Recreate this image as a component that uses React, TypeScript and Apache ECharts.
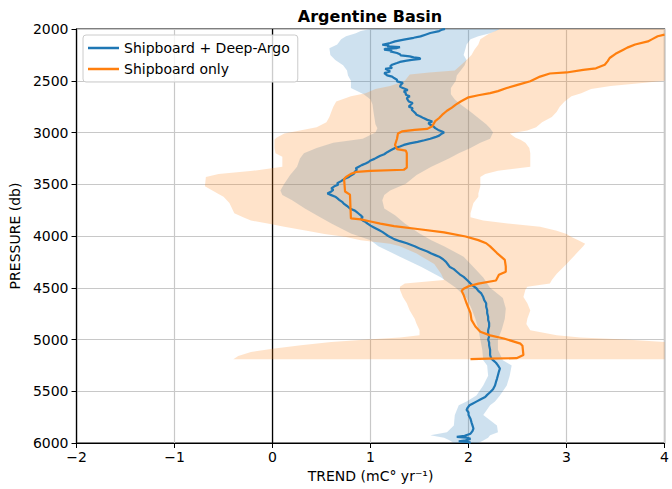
import React, { useEffect, useRef } from "react";
import * as echarts from "echarts";

const TITLE = "Argentine Basin";
const X_NAME = "TREND (mC° yr⁻¹)";
const Y_NAME = "PRESSURE (db)";
const SERIES_NAMES = ["Shipboard + Deep-Argo", "Shipboard only"];

const X_MIN = -2;
const X_MAX = 4;
const X_STEP = 1;
const Y_MIN = 2000;
const Y_MAX = 6000;
const Y_STEP = 500;

// Blue line: Shipboard + Deep-Argo
const bluePressure = [
  2000, 2006, 2020, 2039, 2055, 2071, 2085, 2103, 2120, 2135, 2152, 2160, 2168, 2176, 2184, 2192, 2200, 2210, 2216, 2232,
  2245, 2255, 2265, 2274, 2282, 2290, 2298, 2306, 2318, 2329, 2345, 2361, 2375, 2385, 2394, 2410, 2426, 2440, 2448, 2460,
  2474, 2490, 2506, 2520, 2539, 2555, 2571, 2590, 2603, 2620, 2635, 2650, 2668, 2685, 2700, 2715, 2732, 2750, 2765, 2780,
  2797, 2815, 2829, 2845, 2861, 2878, 2894, 2910, 2926, 2940, 2958, 2975, 2990, 3000, 3015, 3030, 3045, 3060, 3075, 3090,
  3105, 3120, 3135, 3150, 3170, 3190, 3210, 3225, 3240, 3255, 3270, 3285, 3300, 3315, 3330, 3345, 3360, 3380, 3400, 3415,
  3430, 3450, 3470, 3490, 3505, 3520, 3540, 3555, 3570, 3590, 3605, 3620, 3635, 3650, 3670, 3690, 3710, 3725, 3740, 3755,
  3770, 3785, 3800, 3820, 3835, 3850, 3865, 3880, 3900, 3915, 3930, 3945, 3960, 3980, 4000, 4015, 4030, 4050, 4070, 4085,
  4100, 4120, 4135, 4150, 4170, 4185, 4200, 4225, 4250, 4275, 4300, 4320, 4345, 4370, 4395, 4430, 4460, 4485, 4505, 4530,
  4555, 4590, 4620, 4650, 4685, 4715, 4745, 4780, 4810, 4840, 4875, 4910, 4940, 4970, 5000, 5030, 5055, 5100, 5150, 5180,
  5200, 5225, 5250, 5280, 5310, 5345, 5380, 5410, 5445, 5480, 5510, 5535, 5555, 5580, 5600, 5620, 5635, 5660, 5680, 5705,
  5730, 5765, 5800, 5830, 5860, 5885, 5910, 5930, 5940, 5948, 5960, 5975, 5985, 5993, 6000,
];
const blueTrend = [
  1.76, 1.73, 1.7, 1.61, 1.56, 1.51, 1.44, 1.34, 1.25, 1.2, 1.12, 1.19, 1.17, 1.3, 1.27, 1.15, 1.14, 1.22, 1.2, 1.27,
  1.3, 1.31, 1.4, 1.44, 1.5, 1.51, 1.42, 1.37, 1.3, 1.27, 1.22, 1.2, 1.22, 1.15, 1.17, 1.2, 1.14, 1.16, 1.17, 1.22,
  1.24, 1.27, 1.27, 1.33, 1.31, 1.3, 1.33, 1.38, 1.34, 1.36, 1.36, 1.4, 1.37, 1.38, 1.39, 1.43, 1.41, 1.39, 1.43, 1.42,
  1.44, 1.46, 1.47, 1.51, 1.54, 1.58, 1.63, 1.59, 1.61, 1.64, 1.66, 1.69, 1.73, 1.75, 1.72, 1.7, 1.66, 1.61, 1.55, 1.48,
  1.4, 1.34, 1.3, 1.25, 1.21, 1.17, 1.14, 1.1, 1.07, 1.04, 1.0, 0.98, 0.95, 0.91, 0.88, 0.85, 0.86, 0.84, 0.83, 0.8,
  0.78, 0.73, 0.7, 0.66, 0.67, 0.63, 0.6, 0.62, 0.6, 0.56, 0.6, 0.64, 0.66, 0.68, 0.71, 0.73, 0.76, 0.78, 0.8, 0.84,
  0.86, 0.88, 0.9, 0.92, 0.9, 0.92, 0.95, 0.97, 1.0, 1.03, 1.06, 1.09, 1.12, 1.15, 1.18, 1.21, 1.24, 1.3, 1.37, 1.41,
  1.45, 1.5, 1.54, 1.58, 1.62, 1.66, 1.7, 1.74, 1.77, 1.79, 1.81, 1.85, 1.88, 1.91, 1.95, 1.99, 2.02, 2.05, 2.08, 2.1,
  2.13, 2.15, 2.16, 2.18, 2.18, 2.19, 2.19, 2.2, 2.2, 2.21, 2.21, 2.2, 2.2, 2.21, 2.2, 2.21, 2.21, 2.22, 2.22, 2.23,
  2.25, 2.28, 2.3, 2.32, 2.31, 2.3, 2.29, 2.28, 2.27, 2.25, 2.22, 2.19, 2.17, 2.12, 2.08, 2.04, 2.01, 1.99, 1.98, 2.0,
  2.0, 2.02, 2.03, 2.04, 2.05, 2.04, 2.02, 1.96, 1.88, 1.98, 2.02, 1.97, 1.9, 2.02, 2.0,
];

// Orange line: Shipboard only
const orangePressure = [
  2055, 2070, 2100, 2120, 2150, 2180, 2200, 2240, 2280, 2310, 2345, 2380, 2395, 2420, 2430, 2460, 2505, 2540, 2570, 2600,
  2620, 2640, 2660, 2700, 2730, 2760, 2790, 2830, 2860, 2890, 2940, 2965, 2975, 2990, 3010, 3060, 3120, 3160, 3175, 3200,
  3340, 3360, 3370, 3380, 3400, 3430, 3450, 3570, 3600, 3830, 3840, 3860, 3880, 3905, 3935, 3965, 4005, 4040, 4070, 4100,
  4165, 4230, 4295, 4345, 4375, 4430, 4460, 4485, 4510, 4530, 4570, 4650, 4745, 4810, 4875, 4925, 4960, 4990, 5040, 5060,
  5150, 5180, 5185, 5190,
];
const orangeTrend = [
  4.0, 3.93, 3.87, 3.83, 3.7, 3.62, 3.58, 3.5, 3.44, 3.42, 3.39, 3.3, 3.17, 3.0, 2.83, 2.73, 2.63, 2.5, 2.39, 2.3,
  2.22, 2.1, 2.0, 1.92, 1.87, 1.83, 1.78, 1.73, 1.7, 1.66, 1.63, 1.58, 1.45, 1.32, 1.28, 1.27, 1.25, 1.27, 1.36, 1.37,
  1.37, 1.34, 1.0, 0.86, 0.8, 0.75, 0.73, 0.74, 0.79, 0.8, 0.9, 1.0, 1.1, 1.24, 1.5, 1.75, 1.97, 2.1, 2.18, 2.22,
  2.29, 2.37, 2.38, 2.38, 2.31, 2.28, 2.1, 2.0, 1.95, 1.93, 1.95, 1.98, 2.02, 2.03, 2.07, 2.12, 2.22, 2.36, 2.53, 2.55,
  2.56, 2.49, 2.2, 2.02,
];

// Blue uncertainty band
const blueBandPressure = [
  2000, 2020, 2040, 2070, 2100, 2150, 2185, 2250, 2300, 2350, 2400, 2450, 2500, 2570, 2630, 2680, 2730, 2800, 2860, 2920,
  2960, 3000, 3060, 3100, 3150, 3200, 3250, 3330, 3410, 3495, 3560, 3605, 3655, 3735, 3800, 3880, 3975, 4040, 4100, 4200,
  4300, 4400, 4500, 4600, 4700, 4800, 4900, 5000, 5100, 5200, 5250, 5350, 5445, 5540, 5600, 5635, 5730, 5830, 5895, 5925,
  5950, 5975, 6000,
];
const blueBandLow = [
  1.0, 0.9, 0.85, 0.75, 0.7, 0.66, 0.58, 0.59, 0.64, 0.72, 0.76, 0.77, 0.8, 0.8, 0.93, 1.0, 1.02, 1.03, 1.04, 1.05,
  1.07, 1.05, 0.92, 0.62, 0.45, 0.32, 0.28, 0.25, 0.18, 0.12, 0.08, 0.1, 0.2, 0.33, 0.45, 0.6, 0.8, 1.0, 1.08, 1.3,
  1.52, 1.72, 1.87, 1.98, 2.03, 2.07, 2.1, 2.12, 2.14, 2.15, 2.19, 2.2, 2.15, 2.08, 1.98, 1.9, 1.86, 1.85, 1.78, 1.61,
  1.75, 1.81, 1.85,
];
const blueBandHigh = [
  2.32, 2.28, 2.22, 2.1, 2.02, 1.98, 1.97, 1.95, 1.98, 1.96, 1.92, 1.88, 1.87, 1.82, 1.82, 1.86, 1.92, 2.02, 2.1, 2.18,
  2.22, 2.25, 2.22, 2.12, 2.02, 1.9, 1.8, 1.62, 1.47, 1.36, 1.2, 1.14, 1.12, 1.14, 1.25, 1.35, 1.5, 1.62, 1.75, 1.95,
  2.05, 2.15, 2.22, 2.35, 2.38, 2.37, 2.34, 2.3, 2.3, 2.35, 2.44, 2.42, 2.39, 2.32, 2.27, 2.22, 2.15, 2.29, 2.3, 2.22,
  2.2, 2.15, 2.1,
];

// Orange uncertainty band
const orangeBandPressure = [
  2000, 2050, 2100, 2150, 2200, 2250, 2300, 2350, 2400, 2420, 2440, 2500, 2520, 2550, 2580, 2620, 2650, 2700, 2750, 2800,
  2850, 2900, 2950, 2980, 3010, 3050, 3070, 3100, 3150, 3200, 3235, 3330, 3370, 3400, 3430, 3520, 3590, 3620, 3680, 3780,
  3820, 3850, 3880, 3910, 3950, 3980, 4010, 4040, 4075, 4100, 4170, 4270, 4365, 4425, 4460, 4490, 4520, 4590, 4650, 4720,
  4800, 4850, 4910, 4960, 4980, 5000, 5025, 5055, 5090, 5120, 5160, 5190,
];
const orangeBandLow = [
  2.32, 2.2, 2.12, 2.1, 2.06, 2.03, 1.98, 1.92, 1.86, 1.6, 1.4, 1.35, 1.3, 1.2, 1.05, 0.95, 0.8, 0.65, 0.62, 0.6,
  0.58, 0.55, 0.45, 0.28, 0.12, 0.04, 0.02, 0.02, 0.02, 0.03, 0.1, 0.1, -0.2, -0.55, -0.68, -0.69, -0.56, -0.5, -0.44, -0.39,
  -0.3, -0.22, -0.05, 0.12, 0.35, 0.53, 0.75, 0.9, 1.2, 1.3, 1.47, 1.65, 1.72, 1.75, 1.35, 1.3, 1.3, 1.33, 1.37, 1.4,
  1.45, 1.47, 1.5, 1.5, 1.3, 0.97, 0.6, 0.29, 0.0, -0.22, -0.35, -0.4,
];
const orangeBandHigh = [
  4.0, 4.0, 4.0, 4.0, 4.0, 4.0, 4.0, 4.0, 4.0, 4.0, 4.0, 4.0, 3.8, 3.45, 3.25, 3.15, 3.05, 2.98, 2.93, 2.9,
  2.85, 2.75, 2.69, 2.6, 2.42, 2.48, 2.53, 2.58, 2.62, 2.63, 2.63, 2.63, 2.3, 2.17, 2.12, 2.12, 2.1, 2.1, 2.05, 2.02,
  2.02, 2.15, 2.4, 2.73, 2.9, 3.0, 3.05, 3.12, 3.19, 3.17, 3.1, 3.0, 2.9, 2.85, 2.83, 2.6, 2.58, 2.56, 2.6, 2.63,
  2.6, 2.59, 2.63, 2.9, 3.14, 3.6, 4.0, 4.0, 4.0, 4.0, 4.0, 4.0,
];

const ZERO_LINE_X = [0, 0];
const ZERO_LINE_Y = [Y_MIN, Y_MAX];

const BLUE = "#1f77b4";
const ORANGE = "#ff7f0e";
const FONT = "DejaVu Sans";

const pairs = (xs: number[], ys: number[]) => ys.map((y, i) => [xs[i], y]);

function bandSeries(name: string, pressure: number[], low: number[], high: number[], fill: string) {
  return {
    type: "custom",
    name,
    silent: true,
    z: 2,
    data: pressure.map((p, i) => [low[i], high[i], p]),
    encode: { x: [0, 1], y: 2 },
    renderItem: (params: any, api: any) => {
      if (params.dataIndex !== 0) return null;
      const left = pressure.map((p, i) => api.coord([low[i], p]));
      const right = pressure.map((p, i) => api.coord([high[i], p])).reverse();
      return {
        type: "polygon",
        shape: { points: left.concat(right) },
        style: { fill },
      };
    },
  };
}

const fmtMinus = (v: number) => (v < 0 ? "\u2212" + Math.abs(v) : String(v));
const fmtPlain = (v: number) => String(v);

export default function App() {
  const ref = useRef<HTMLDivElement>(null);
  useEffect(() => {
    if (!ref.current) return;
    const chart = echarts.init(ref.current, undefined, { renderer: "svg" });
    chart.setOption({
      animation: false,
      backgroundColor: "#ffffff",
      textStyle: { fontFamily: FONT },
      grid: {
        left: 75,
        right: 7,
        top: 29,
        bottom: 46,
        show: true,
        borderColor: "#000000",
        borderWidth: 1.2,
        backgroundColor: "transparent",
      },
      graphic: [
        {
          type: "text",
          x: 370,
          y: 16,
          style: {
            text: TITLE,
            textAlign: "center",
            textVerticalAlign: "middle",
            fontFamily: FONT,
            fontWeight: "bold",
            fontSize: 16,
            fill: "#000000",
          },
        },
      ],
      legend: {
        data: SERIES_NAMES.map((name) => ({ name, icon: "rect" })),
        orient: "vertical",
        left: 83,
        top: 35,
        padding: [6, 8, 6, 5],
        itemGap: 7,
        itemWidth: 31,
        itemHeight: 2.5,
        backgroundColor: "rgba(255,255,255,0.8)",
        borderColor: "#cccccc",
        borderWidth: 1,
        borderRadius: 3,
        textStyle: { fontFamily: FONT, fontSize: 14, color: "#000000", lineHeight: 14 },
      },
      xAxis: {
        type: "value",
        min: X_MIN,
        max: X_MAX,
        interval: X_STEP,
        name: X_NAME,
        nameLocation: "middle",
        nameGap: 22,
        nameTextStyle: { fontFamily: FONT, fontSize: 14, color: "#000000" },
        axisLine: { show: true, onZero: false, lineStyle: { color: "#000000", width: 1.2 } },
        axisTick: { show: true, length: 5, lineStyle: { color: "#000000" } },
        axisLabel: { fontFamily: FONT, fontSize: 14, color: "#000000", margin: 7, formatter: fmtMinus },
        splitLine: { show: true, lineStyle: { color: "#c8c8c8", width: 1.2 } },
      },
      yAxis: {
        type: "value",
        inverse: true,
        min: Y_MIN,
        max: Y_MAX,
        interval: Y_STEP,
        name: Y_NAME,
        nameLocation: "middle",
        nameGap: 50,
        nameTextStyle: { fontFamily: FONT, fontSize: 14, color: "#000000" },
        axisLine: { show: true, onZero: false, lineStyle: { color: "#000000", width: 1.2 } },
        axisTick: { show: true, length: 5, lineStyle: { color: "#000000" } },
        axisLabel: { fontFamily: FONT, fontSize: 14, color: "#000000", margin: 8, formatter: fmtPlain },
        splitLine: { show: true, lineStyle: { color: "#c8c8c8", width: 1.2 } },
      },
      series: [
        {
          type: "line",
          name: "zero",
          data: pairs(ZERO_LINE_X, ZERO_LINE_Y),
          symbol: "none",
          silent: true,
          z: 1,
          lineStyle: { color: "#000000", width: 1.3 },
        },
        bandSeries("blueBand", blueBandPressure, blueBandLow, blueBandHigh, "rgba(31,119,180,0.22)"),
        bandSeries("orangeBand", orangeBandPressure, orangeBandLow, orangeBandHigh, "rgba(255,127,14,0.22)"),
        {
          type: "line",
          name: SERIES_NAMES[0],
          data: pairs(blueTrend, bluePressure),
          symbol: "none",
          showSymbol: false,
          z: 3,
          color: BLUE,
          lineStyle: { color: BLUE, width: 2.2 },
        },
        {
          type: "line",
          name: SERIES_NAMES[1],
          data: pairs(orangeTrend, orangePressure),
          symbol: "none",
          showSymbol: false,
          z: 4,
          color: ORANGE,
          lineStyle: { color: ORANGE, width: 2.2 },
        },
      ],
    });
    return () => chart.dispose();
  }, []);
  return (
    <div
      ref={ref}
      style={{ position: "absolute", left: 0, top: 0, width: 672, height: 489 }}
    />
  );
}
